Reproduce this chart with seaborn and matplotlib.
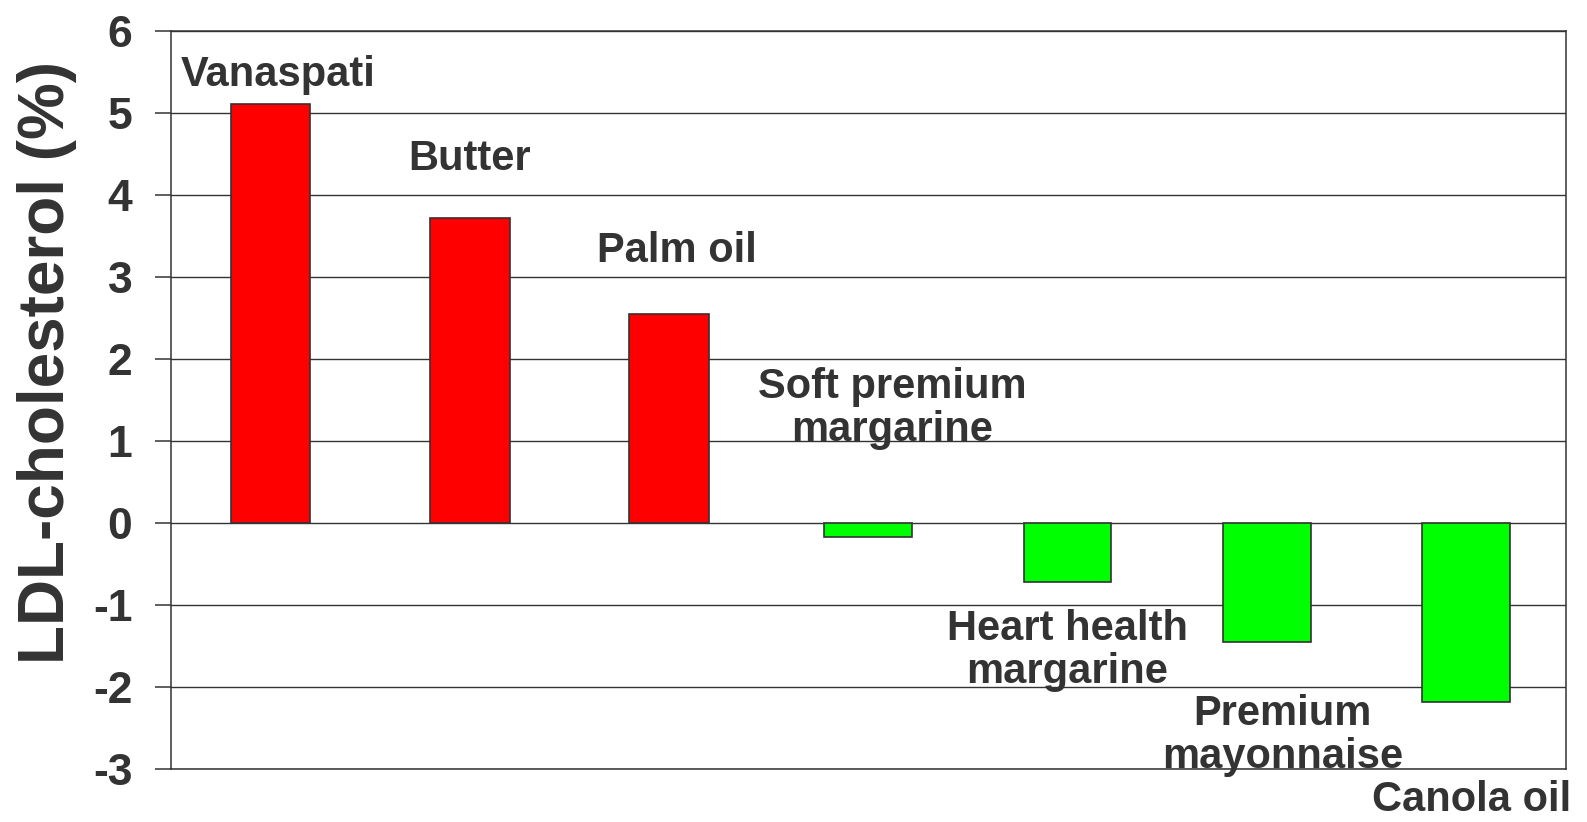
import matplotlib
matplotlib.use("Agg")
import matplotlib.pyplot as plt
import numpy as np
import pandas as pd
import seaborn as sns

# datos
foods = ["Vanaspati", "Butter", "Palm oil", "Soft premium\nmargarine",
         "Heart health\nmargarine", "Premium\nmayonnaise", "Canola oil"]
ldl_change = [5.10, 3.72, 2.54, -0.17, -0.72, -1.46, -2.19]
y_ticks = [-3, -2, -1, 0, 1, 2, 3, 4, 5, 6]

df = pd.DataFrame({"food": foods, "ldl": ldl_change})

sns.set_theme(style="white")
plt.rcParams['font.family'] = ['Liberation Sans', 'DejaVu Sans']
plt.rcParams['font.weight'] = 'bold'
plt.rcParams['axes.unicode_minus'] = False

dark = "#333333"
fig = plt.figure(figsize=(15.87, 8.22), dpi=100)
ax = fig.add_axes([0.1076, 0.0648, 0.879, 0.8979])

# barras positivas (rojo) y negativas (verde)
sns.barplot(data=df[df["ldl"] > 0], x="food", y="ldl", order=foods,
            color="#FF0000", saturation=1, width=0.40,
            edgecolor=dark, linewidth=1.2, ax=ax)
sns.barplot(data=df[df["ldl"] <= 0], x="food", y="ldl", order=foods,
            color="#00FF00", saturation=1, width=0.44,
            edgecolor=dark, linewidth=1.2, ax=ax)

ax.set_xlim(-0.5, len(foods) - 0.5)
ax.set_ylim(-3, 6)
ax.set_yticks(y_ticks)
ax.set_yticklabels([str(t) for t in y_ticks])
ax.set_xticks([])
ax.set_xlabel("")
ax.set_ylabel("LDL-cholesterol (%)", fontsize=46, fontweight="bold", color=dark)
ax.yaxis.set_label_coords(-0.0673, 0.55)

ax.yaxis.grid(True, color=dark, linewidth=1.0)
ax.set_axisbelow(True)
ax.tick_params(axis="y", which="major", left=True, direction="out", length=11.2,
               width=1.1, color=dark, labelsize=32, labelcolor=dark, pad=16.5)
for sp in ax.spines.values():
    sp.set_color(dark)
    sp.set_linewidth(1.1)
    sp.set_visible(True)

# etiquetas de cada barra
label_pos = [(0.04, 5.70), (1.0, 4.68), (2.04, 3.56), (3.12, 1.90),
             (4.0, -1.05), (5.08, -2.09), (6.03, -3.14)]
for name, (lx, ly) in zip(foods, label_pos):
    ax.text(lx, ly, name, ha="center", va="top", fontsize=30,
            fontweight="bold", color=dark, linespacing=1.1, clip_on=False)

fig.savefig("out.png", dpi=100)
